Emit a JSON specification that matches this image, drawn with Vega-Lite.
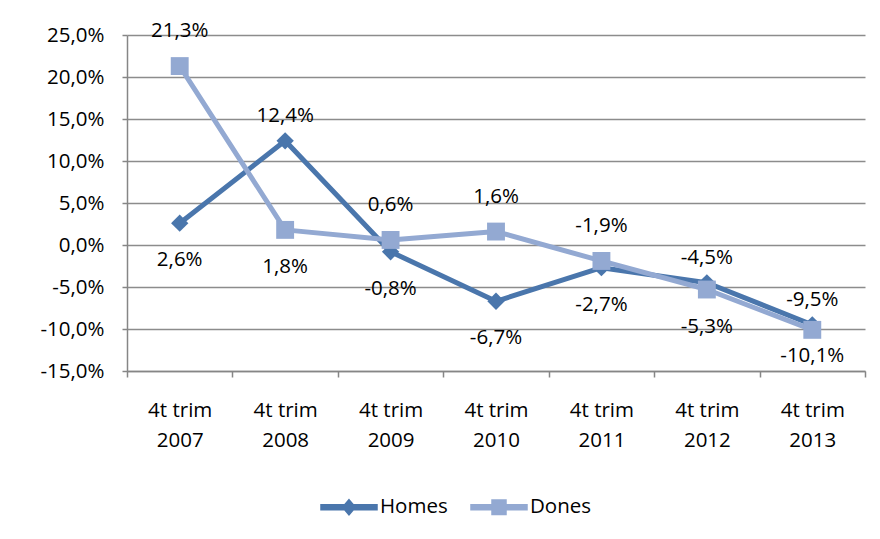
{
  "$schema": "https://vega.github.io/schema/vega-lite/v6.json",
  "width": 738,
  "height": 336,
  "autosize": {"type": "none"},
  "padding": {"left": 127, "top": 35, "right": 15, "bottom": 168},
  "background": "white",
  "config": {
    "font": "Open Sans",
    "view": {"stroke": null},
    "axis": {"labelColor": "#000000", "labelFontSize": 20.5, "title": null, "domainColor": "#868686", "domainWidth": 1.5, "tickColor": "#868686", "tickWidth": 1.5, "gridColor": "#8c8c8c", "gridWidth": 1.5}
  },
  "data": {
    "values": [
      {"periode": "4t trim 2007", "serie": "Homes", "valor": 2.6},
      {"periode": "4t trim 2008", "serie": "Homes", "valor": 12.4},
      {"periode": "4t trim 2009", "serie": "Homes", "valor": -0.8},
      {"periode": "4t trim 2010", "serie": "Homes", "valor": -6.7},
      {"periode": "4t trim 2011", "serie": "Homes", "valor": -2.7},
      {"periode": "4t trim 2012", "serie": "Homes", "valor": -4.5},
      {"periode": "4t trim 2013", "serie": "Homes", "valor": -9.5},
      {"periode": "4t trim 2007", "serie": "Dones", "valor": 21.3},
      {"periode": "4t trim 2008", "serie": "Dones", "valor": 1.8},
      {"periode": "4t trim 2009", "serie": "Dones", "valor": 0.6},
      {"periode": "4t trim 2010", "serie": "Dones", "valor": 1.6},
      {"periode": "4t trim 2011", "serie": "Dones", "valor": -1.9},
      {"periode": "4t trim 2012", "serie": "Dones", "valor": -5.3},
      {"periode": "4t trim 2013", "serie": "Dones", "valor": -10.1}
    ]
  },
  "transform": [
    {"calculate": "replace(replace(format(datum.valor, '.1f'), '.', ','), '−', '-') + '%'", "as": "etiqueta"},
    {"calculate": "slice(datum.periode, -4)", "as": "any"}
  ],
  "encoding": {
    "x": {
      "field": "periode", "type": "nominal", "sort": null,
      "scale": {"type": "band", "paddingInner": 0, "paddingOuter": 0},
      "axis": {"labelAngle": 0, "grid": false, "tickBand": "extent", "tickSize": 6, "labelPadding": 23, "labelLineHeight": 30, "labelExpr": "datum.label ? ['4t trim', slice(datum.label, -4)] : ''"}
    },
    "y": {
      "field": "valor", "type": "quantitative",
      "scale": {"domain": [-15, 25], "nice": false, "zero": false},
      "axis": {"values": [-15, -10, -5, 0, 5, 10, 15, 20, 25], "grid": true, "tickSize": 5, "labelPadding": 18, "labelExpr": "replace(replace(format(datum.value, '.1f'), '.', ','), '−', '-') + '%'"}
    },
    "color": {
      "field": "serie", "type": "nominal",
      "scale": {"domain": ["Homes", "Dones"], "range": ["#4A76AC", "#93A9D2"]},
      "legend": {
        "orient": "none", "legendX": 193, "legendY": 443, "direction": "horizontal", "title": null,
        "symbolSize": 3136, "labelFontSize": 20.5, "labelColor": "#000000", "columnPadding": 20, "labelOffset": 2,
        "encode": {"symbols": {"update": {
          "shape": {"signal": "datum.value === 'Homes' ? 'M-1,-0.09H1V0.09H-1Z M0,-0.27L0.23,0L0,0.27L-0.23,0Z' : 'M-1,-0.09H1V0.09H-1Z M-0.25,-0.26H0.25V0.26H-0.25Z'"},
          "fill": {"scale": "color", "field": "value"},
          "fillOpacity": {"value": 1},
          "stroke": {"value": "transparent"}
        }}}
      }
    }
  },
  "layer": [
    {"transform": [{"filter": "datum.serie === 'Homes'"}], "mark": {"type": "line", "strokeWidth": 5, "strokeJoin": "round", "strokeCap": "round"}},
    {"transform": [{"filter": "datum.serie === 'Dones'"}], "mark": {"type": "line", "strokeWidth": 5, "strokeJoin": "round", "strokeCap": "round"}},
    {"transform": [{"filter": "datum.serie === 'Homes'"}], "mark": {"type": "point", "shape": "diamond", "filled": true, "opacity": 1, "size": 300}},
    {"transform": [{"filter": "datum.serie === 'Dones'"}], "mark": {"type": "point", "shape": "square", "filled": true, "opacity": 1, "size": 320}},
    {
      "transform": [{"filter": "datum.serie === 'Homes' && indexof(['2008','2012','2013'], datum.any) >= 0"}],
      "mark": {"type": "text", "dy": -25, "fontSize": 20.5},
      "encoding": {"text": {"field": "etiqueta"}, "color": {"value": "#000000"}}
    },
    {
      "transform": [{"filter": "datum.serie === 'Dones' && indexof(['2007','2009','2010','2011'], datum.any) >= 0"}],
      "mark": {"type": "text", "dy": -35, "fontSize": 20.5},
      "encoding": {"text": {"field": "etiqueta"}, "color": {"value": "#000000"}}
    },
    {
      "transform": [{"filter": "(datum.serie === 'Homes' && indexof(['2007','2009','2010','2011'], datum.any) >= 0) || (datum.serie === 'Dones' && indexof(['2008','2012'], datum.any) >= 0)"}],
      "mark": {"type": "text", "dy": 37, "fontSize": 20.5},
      "encoding": {"text": {"field": "etiqueta"}, "color": {"value": "#000000"}}
    },
    {
      "transform": [{"filter": "datum.serie === 'Dones' && datum.any === '2013'"}],
      "mark": {"type": "text", "dy": 26, "fontSize": 20.5},
      "encoding": {"text": {"field": "etiqueta"}, "color": {"value": "#000000"}}
    }
  ]
}
